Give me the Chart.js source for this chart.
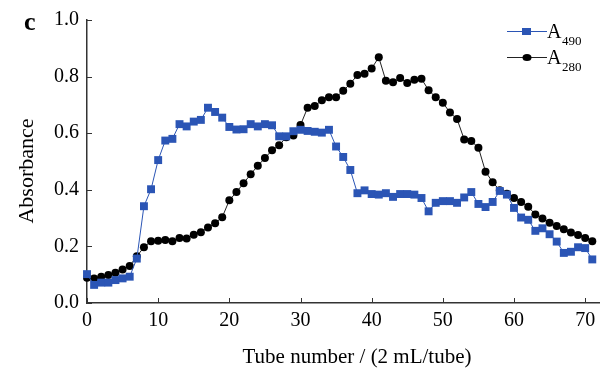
<!DOCTYPE html>
<html><head><meta charset="utf-8">
<script src="https://cdn.jsdelivr.net/npm/chart.js@4"></script>
<style>html,body{margin:0;padding:0;background:#fff}#wrap{width:605px;height:372px}</style>
</head><body><div id="wrap"><canvas id="c"></canvas></div>
<script>
const tubes = [0,1,2,3,4,5,6,7,8,9,10,11,12,13,14,15,16,17,18,19,20,21,22,23,24,25,26,27,28,29,30,31,32,33,34,35,36,37,38,39,40,41,42,43,44,45,46,47,48,49,50,51,52,53,54,55,56,57,58,59,60,61,62,63,64,65,66,67,68,69,70,71];
const a490 = [0.102,0.064,0.072,0.072,0.081,0.087,0.093,0.157,0.342,0.402,0.505,0.574,0.580,0.632,0.624,0.641,0.647,0.690,0.675,0.655,0.622,0.613,0.614,0.632,0.624,0.632,0.628,0.589,0.589,0.607,0.612,0.608,0.605,0.602,0.612,0.553,0.516,0.470,0.388,0.398,0.385,0.383,0.388,0.375,0.385,0.385,0.383,0.371,0.324,0.354,0.360,0.360,0.354,0.373,0.392,0.350,0.339,0.357,0.396,0.383,0.336,0.302,0.294,0.255,0.264,0.243,0.217,0.177,0.181,0.197,0.194,0.154];
const a280 = [0.089,0.087,0.093,0.099,0.107,0.118,0.131,0.165,0.197,0.218,0.220,0.223,0.218,0.230,0.228,0.241,0.250,0.267,0.282,0.303,0.363,0.392,0.423,0.455,0.485,0.512,0.540,0.557,0.586,0.592,0.629,0.690,0.696,0.716,0.727,0.727,0.750,0.775,0.806,0.810,0.829,0.868,0.785,0.780,0.795,0.777,0.789,0.792,0.752,0.727,0.708,0.673,0.650,0.578,0.572,0.549,0.464,0.427,0.398,0.386,0.371,0.357,0.340,0.313,0.299,0.284,0.272,0.261,0.249,0.240,0.230,0.218];
const seriesNames = ['A','A'];
const seriesSubs = ['490','280'];
const xTitle = 'Tube number / (2 mL/tube)';
const yTitle = 'Absorbance';
const panelLabel = 'c';

const BLUE = '#2b55b5';
const BLACK = '#000000';
const FONT = "'Liberation Serif', 'Times New Roman', serif";

function pts(ys){ return tubes.map((t,i)=>({x:t,y:ys[i]})); }

const tickPlugin = {
  id:'inTicks',
  afterDatasetsDraw(chart){
    const ctx = chart.ctx, xs = chart.scales.x, ys = chart.scales.y;
    ctx.save();
    ctx.strokeStyle = '#333'; ctx.lineWidth = 1;
    xs.ticks.forEach(t=>{ const px = Math.round(xs.getPixelForValue(t.value))+0.5;
      ctx.beginPath(); ctx.moveTo(px, ys.bottom); ctx.lineTo(px, ys.bottom-5); ctx.stroke(); });
    ys.ticks.forEach(t=>{ const py = Math.round(ys.getPixelForValue(t.value))+0.5;
      ctx.beginPath(); ctx.moveTo(xs.left, py); ctx.lineTo(xs.left+5, py); ctx.stroke(); });
    ctx.fillStyle = '#000'; ctx.textBaseline = 'alphabetic';
    // axis titles
    ctx.font = '21px ' + FONT; ctx.textAlign = 'center';
    ctx.fillText(xTitle, 357, 363);
    ctx.save(); ctx.translate(33, 171); ctx.rotate(-Math.PI/2);
    ctx.font = '22px ' + FONT; ctx.fillText(yTitle, 0, 0); ctx.restore();
    // panel label
    ctx.font = 'bold 26px ' + FONT; ctx.textAlign='left';
    ctx.fillText(panelLabel, 24, 30);
    // legend
    const ds = chart.data.datasets;
    const rows = [31, 57];
    ds.forEach((d,i)=>{
      const y = rows[i];
      ctx.strokeStyle = d.borderColor; ctx.lineWidth = 1;
      ctx.beginPath(); ctx.moveTo(507, y+0.5); ctx.lineTo(547, y+0.5); ctx.stroke();
      ctx.fillStyle = d.pointBackgroundColor;
      if (d.pointStyle === 'rect') { ctx.fillRect(522, y-3, 9, 7); }
      else { ctx.beginPath(); ctx.ellipse(527, y+0.5, 4.5, 3.5, 0, 0, Math.PI*2); ctx.fill(); }
      ctx.fillStyle = '#000'; ctx.textAlign='left';
      ctx.font = '20px ' + FONT; ctx.fillText(seriesNames[i], 547, y+7);
      ctx.font = '13px ' + FONT; ctx.fillText(seriesSubs[i], 562, y+14);
    });
    ctx.restore();
  }
};

new Chart(document.getElementById('c'), {
  type:'line',
  data:{ datasets:[
    {label:'A490', data:pts(a490), borderColor:BLUE, backgroundColor:BLUE, pointBackgroundColor:BLUE, pointBorderColor:BLUE,
      pointStyle:'rect', pointRadius:5.6, pointBorderWidth:0, borderWidth:1, tension:0, clip:false},
    {label:'A280', data:pts(a280), borderColor:'#222', backgroundColor:BLACK, pointBackgroundColor:BLACK, pointBorderColor:BLACK,
      pointStyle:'circle', pointRadius:4, pointBorderWidth:0, borderWidth:1, tension:0, clip:false}
  ]},
  options:{
    responsive:true, maintainAspectRatio:false, animation:false,
    layout:{padding:{top:16,right:0,left:0,bottom:0}},
    plugins:{legend:{display:false}, tooltip:{enabled:false}},
    scales:{
      x:{type:'linear', min:0, max:72,
        afterFit(s){ s.height = 69; },
        border:{display:true, color:'#333', width:1.5},
        grid:{display:true, drawOnChartArea:false, drawTicks:false},
        ticks:{stepSize:10, includeBounds:false, padding:6, color:'#000', font:{family:FONT, size:20}, maxRotation:0, autoSkip:false},
        title:{display:false}
      },
      y:{min:0, max:1.0,
        afterFit(s){ s.width = 87; },
        border:{display:true, color:'#333', width:1.5},
        grid:{display:true, drawOnChartArea:false, drawTicks:false},
        ticks:{stepSize:0.2, padding:8, color:'#000', font:{family:FONT, size:20}, callback:v=>v.toFixed(1)},
        title:{display:false}
      }
    }
  },
  plugins:[tickPlugin]
});
</script></body></html>
